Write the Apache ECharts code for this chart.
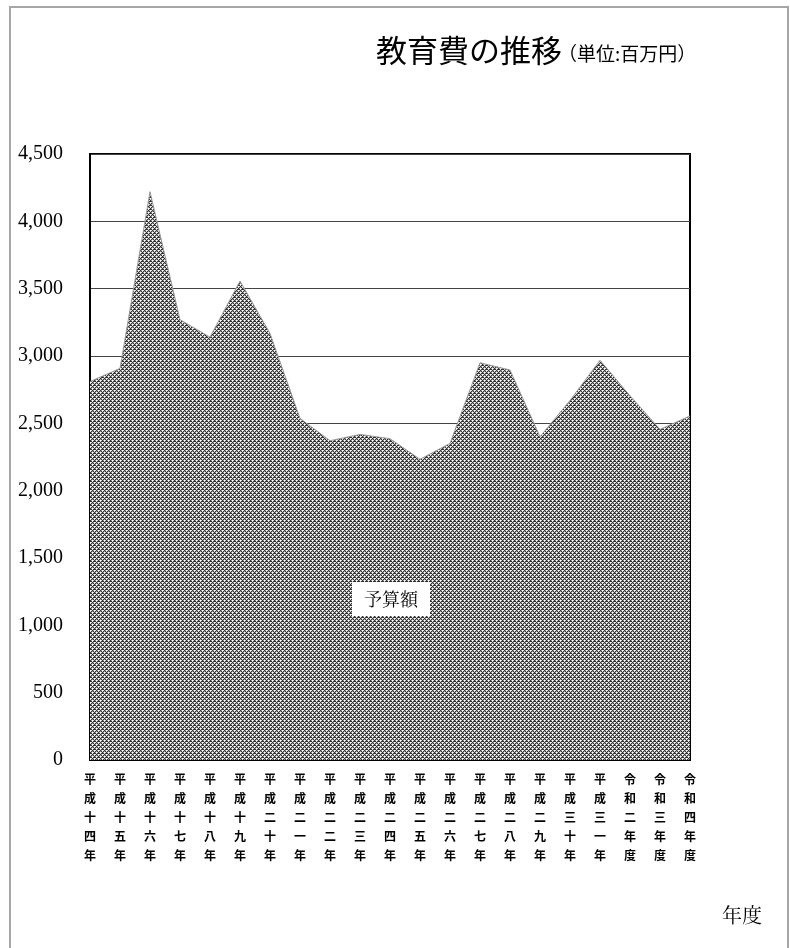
<!DOCTYPE html>
<html><head><meta charset="utf-8">
<script src="https://cdn.jsdelivr.net/npm/echarts@6/dist/echarts.min.js"></script>
<style>html,body{margin:0;padding:0;background:#fff}#c{width:790px;height:948px}</style>
</head><body><div id="c"></div>
<script>
const categories = ['平成十四年','平成十五年','平成十六年','平成十七年','平成十八年','平成十九年','平成二十年','平成二十一年','平成二十二年','平成二十三年','平成二十四年','平成二十五年','平成二十六年','平成二十七年','平成二十八年','平成二十九年','平成三十年','平成三十一年','令和二年度','令和三年度','令和四年度'];
const axisLabels = ['平成十四年','平成十五年','平成十六年','平成十七年','平成十八年','平成十九年','平成二十年','平成二一年','平成二二年','平成二三年','平成二四年','平成二五年','平成二六年','平成二七年','平成二八年','平成二九年','平成三十年','平成三一年','令和二年度','令和三年度','令和四年度'];
const budget = [2810, 2908, 4220, 3270, 3140, 3557, 3168, 2537, 2371, 2418, 2386, 2233, 2351, 2950, 2896, 2401, 2670, 2968, 2705, 2455, 2555];
const yMin = 0, yMax = 4500, yStep = 500;

const pc = document.createElement('canvas');
pc.width = 4; pc.height = 4;
const g = pc.getContext('2d');
g.fillStyle = '#333333'; g.fillRect(0,0,4,4);
g.fillStyle = '#ffffff';
g.fillRect(0,0,1,1); g.fillRect(2,2,1,1);
g.fillStyle = '#dddddd';
g.fillRect(1,0,1,1); g.fillRect(0,1,1,1); g.fillRect(3,2,1,1); g.fillRect(2,3,1,1);
g.fillStyle = '#999999';
g.fillRect(3,0,1,1); g.fillRect(1,2,1,1); g.fillRect(0,3,1,1);

const chart = echarts.init(document.getElementById('c'));
chart.setOption({
  animation: false,
  backgroundColor: '#fff',
  grid: { left: 90, right: 100, top: 154, bottom: 188, show: true, borderColor: '#000', borderWidth: 2, backgroundColor: 'transparent' },
  xAxis: {
    type: 'category', data: categories, boundaryGap: false,
    axisLine: { show: true, lineStyle: { color: '#000', width: 2 } },
    axisTick: { show: false },
    axisLabel: {
      interval: 0, margin: 10,
      fontFamily: 'Noto Sans CJK JP', fontSize: 12, lineHeight: 19, color: '#000', fontWeight: 'bold',
      formatter: (v, i) => axisLabels[i].split('').join('\n')
    },
    splitLine: { show: false }
  },
  yAxis: {
    type: 'value', min: yMin, max: yMax, interval: yStep,
    axisLine: { show: true, lineStyle: { color: '#000', width: 2 } },
    axisTick: { show: false },
    axisLabel: { margin: 27, fontFamily: 'Liberation Serif', fontSize: 20, color: '#000',
      formatter: v => v.toLocaleString('en-US') },
    splitLine: { show: true, lineStyle: { color: '#444', width: 1 } }
  },
  series: [{
    type: 'line', name: '予算額', data: budget, symbol: 'none',
    lineStyle: { width: 1, color: '#999' },
    areaStyle: { color: { image: pc, repeat: 'repeat' }, opacity: 1 }
  }],
  graphic: [
    { type: 'rect', shape: { x: 10, y: 7, width: 778, height: 960 }, style: { fill: 'none', stroke: '#a6a6a6', lineWidth: 2 }, z: 100 },
    { type: 'text', left: 376, top: 35, style: { text: '教育費の推移', font: '400 31px "Noto Sans CJK JP"', fill: '#000' }, z: 100 },
    { type: 'text', left: 558, top: 44, style: { text: '（単位:百万円）', font: '400 19px "Noto Sans CJK JP"', fill: '#000' }, z: 100 },
    { type: 'text', left: 352, top: 582, style: { text: '予算額', font: '18px "Noto Serif CJK JP", "Noto Sans CJK JP"', fill: '#000', backgroundColor: '#fff', padding: [8, 12, 8, 12] }, z: 100 },
    { type: 'text', left: 722, top: 905, style: { text: '年度', font: '20px "Noto Serif CJK JP", "Noto Sans CJK JP"', fill: '#000' }, z: 100 }
  ]
});
</script>
</body></html>
